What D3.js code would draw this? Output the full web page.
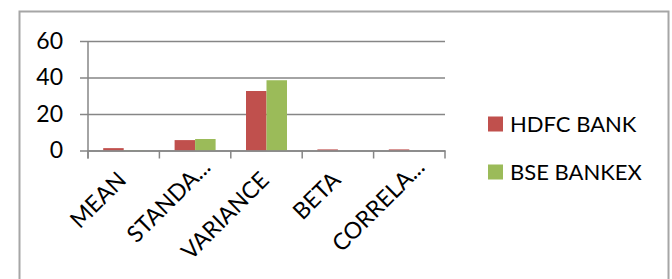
<!DOCTYPE html>
<html><head><meta charset="utf-8">
<script src="https://cdn.jsdelivr.net/npm/d3@7"></script>
<style>html,body{margin:0;padding:0;background:#fff;}svg{display:block;}</style>
</head><body><svg id="c" width="672" height="279"></svg>
<script>
const categories = ["MEAN", "STANDA...", "VARIANCE", "BETA", "CORRELA..."];
const seriesNames = ["HDFC BANK", "BSE BANKEX"];
const hdfcValues = [1.3, 5.7, 32.6, 0.6, 0.6];
const bseValues = [0.15, 6.3, 38.5, 0, 0];
const yTicks = [0, 20, 40, 60];
const colors = ["#C0504D", "#9BBB59"];

const svg = d3.select("#c");
const font = "Lato, 'Open Sans', sans-serif";

// outer border
svg.append("rect").attr("x", 19.5).attr("y", 11.5).attr("width", 649).attr("height", 300)
  .attr("fill", "none").attr("stroke", "#a6a6a6").attr("stroke-width", 2);

const pLeft = 88, pRight = 445, pTop = 41, pBottom = 150.5;
const x = d3.scaleBand().domain(categories).range([pLeft, pRight]);
const xs = d3.scaleBand().domain(seriesNames).range([0, 41]);
const y = d3.scaleLinear().domain([0, 60]).range([pBottom, pTop]);

// gridlines + y axis
const yAxis = d3.axisLeft(y).tickValues(yTicks).tickSize(-(pRight - pLeft)).tickPadding(25).tickFormat(d3.format("d"));
const gy = svg.append("g").attr("transform", `translate(${pLeft},0)`).call(yAxis);
gy.select(".domain").remove();
gy.selectAll(".tick line").attr("stroke", "#868686").attr("stroke-width", 1.5).attr("x1", -8);
gy.selectAll(".tick text").attr("font-family", font).attr("font-size", 23).attr("fill", "#000");

// bars
const data = categories.map((c, i) => ({c, vals: [hdfcValues[i], bseValues[i]]}));
const groups = svg.append("g").selectAll("g").data(data).join("g")
  .attr("transform", d => `translate(${x(d.c) + x.bandwidth()/2 - 20.5},0)`);
groups.selectAll("rect").data(d => d.vals.map((v, j) => ({v, j}))).join("rect")
  .attr("x", d => xs(seriesNames[d.j]))
  .attr("width", xs.bandwidth())
  .attr("y", d => y(d.v))
  .attr("height", d => pBottom - y(d.v))
  .attr("fill", d => colors[d.j]);

// x axis
const xAxis = d3.axisBottom(x).tickSize(0).tickFormat(d => d);
const gx = svg.append("g").attr("transform", `translate(0,${pBottom})`).call(xAxis);
gx.select(".domain").attr("stroke", "#868686").attr("stroke-width", 1.5);
gx.selectAll(".tick text").remove();
// category boundary ticks
const bounds = categories.map(c => x(c)).concat([pRight]);
svg.append("g").selectAll("line").data(bounds).join("line")
  .attr("x1", d => d).attr("x2", d => d).attr("y1", pBottom).attr("y2", pBottom + 8)
  .attr("stroke", "#868686").attr("stroke-width", 1.5);
// y axis line
svg.append("line").attr("x1", pLeft).attr("x2", pLeft).attr("y1", pTop).attr("y2", pBottom + 8)
  .attr("stroke", "#868686").attr("stroke-width", 1.5);

// rotated labels
svg.append("g").selectAll("text").data(categories).join("text")
  .attr("transform", d => `translate(${x(d) + x.bandwidth()/2 + 4},${pBottom + 31}) rotate(-45)`)
  .attr("x", d => d.endsWith("...") ? 18 : 0)
  .attr("text-anchor", "end")
  .attr("font-family", font).attr("font-size", 23).attr("fill", "#000")
  .text(d => d);

// legend
const lg = svg.append("g").selectAll("g").data(seriesNames).join("g")
  .attr("transform", (d, i) => `translate(488,${124 + i * 48})`);
lg.append("rect").attr("x", 0).attr("y", -7.5).attr("width", 15).attr("height", 15).attr("fill", (d, i) => colors[i]);
lg.append("text").attr("x", 22).attr("dy", "0.36em").attr("font-family", font).attr("font-size", 22).attr("fill", "#000").text(d => d);
</script></body></html>
